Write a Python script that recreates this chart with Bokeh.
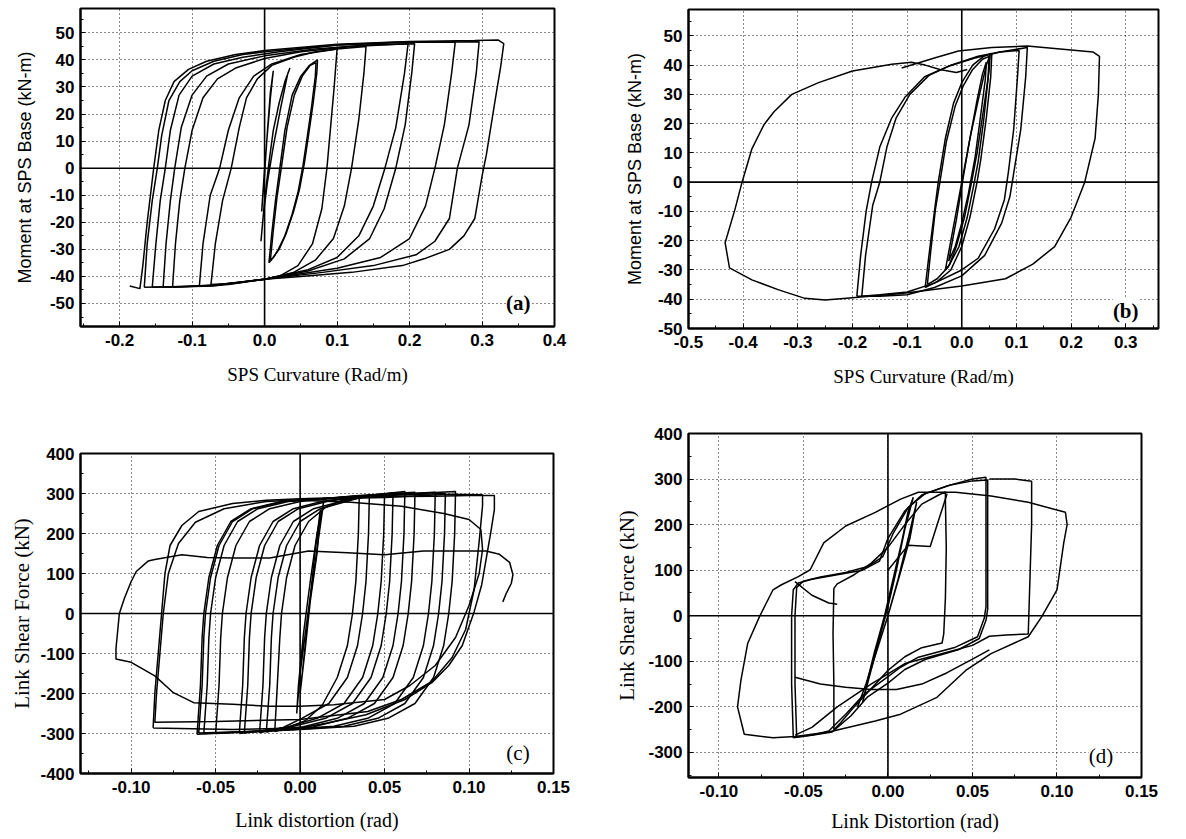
from bokeh.plotting import figure
from bokeh.models import Range1d, FixedTicker, PrintfTickFormatter, Span, Label
from bokeh.layouts import row, column
from bokeh.embed import file_html
from bokeh.resources import INLINE

# ---------------- Panel (a): SPS curvature vs moment ----------------
A_XTICKS = [-0.2, -0.1, 0.0, 0.1, 0.2, 0.3, 0.4]
A_XMINOR = [-0.25, -0.15, -0.05, 0.05, 0.15, 0.25, 0.35]
A_YTICKS = [-50, -40, -30, -20, -10, 0, 10, 20, 30, 40, 50]
A_YMINOR = [-55, -45, -35, -25, -15, -5, 5, 15, 25, 35, 45, 55]

A1_X = [-0.074, -0.068, -0.058, -0.046, -0.035, -0.025, -0.01, 0.01, 0.04, 0.07, 0.10, 0.096, 0.091, 0.086, 0.079, 0.066, 0.046, 0.02, 0.0, -0.04, -0.074]
A1_Y = [-43, -28, -12, 0, 15, 26, 33, 38, 41, 43, 44, 30, 15, 0, -15, -28, -36, -40, -41, -42.5, -43]
A2_X = [-0.09, -0.085, -0.075, -0.062, -0.05, -0.035, -0.015, 0.01, 0.05, 0.1, 0.14, 0.137, 0.13, 0.12, 0.11, 0.095, 0.07, 0.04, 0.0, -0.05, -0.09]
A2_Y = [-43.5, -28, -10, 0, 14, 26, 34, 38.5, 42, 44, 45, 35, 18, 0, -14, -26, -34, -38.5, -41, -43, -43.5]
A3_X = [-0.127, -0.123, -0.117, -0.11, -0.1, -0.085, -0.065, -0.04, 0.0, 0.05, 0.12, 0.198, 0.193, 0.181, 0.166, 0.15, 0.13, 0.1, 0.06, 0.0, -0.06, -0.127]
A3_Y = [-44, -28, -12, 0, 14, 26, 33, 37, 40.5, 43, 45, 46, 35, 15, 0, -14, -25, -33, -37.5, -41, -43, -44]
A4_X = [-0.14, -0.136, -0.13, -0.124, -0.115, -0.1, -0.08, -0.05, 0.0, 0.07, 0.14, 0.207, 0.203, 0.194, 0.181, 0.165, 0.145, 0.11, 0.06, 0.0, -0.07, -0.14]
A4_Y = [-44, -28, -12, 0, 15, 27, 34, 38.5, 41.5, 44, 45.5, 46, 35, 16, 0, -15, -26, -33.5, -38, -41, -43.5, -44]
A5_X = [-0.155, -0.15, -0.144, -0.137, -0.13, -0.118, -0.1, -0.07, -0.03, 0.02, 0.1, 0.18, 0.263, 0.258, 0.248, 0.235, 0.222, 0.2, 0.16, 0.1, 0.0, -0.08, -0.155]
A5_Y = [-44, -28, -12, 0, 14, 27, 34, 38.5, 41, 43, 45.5, 46.5, 46.5, 35, 16, 0, -14, -26, -33, -37, -41, -43.5, -44]
A6_X = [-0.166, -0.162, -0.155, -0.148, -0.142, -0.132, -0.117, -0.1, -0.07, -0.03, 0.0, 0.1, 0.2, 0.296, 0.292, 0.282, 0.266, 0.255, 0.235, 0.209, 0.15, 0.08, 0.0, -0.08, -0.166]
A6_Y = [-44, -28, -12, 0, 12, 25, 32, 36, 39.5, 42, 43, 45.5, 46.5, 46.7, 35, 16, 0, -18.6, -27, -32, -36, -38.5, -41, -43.5, -44]
A7_X = [-0.186, -0.172, -0.168, -0.162, -0.153, -0.146, -0.137, -0.125, -0.105, -0.08, -0.04, 0.0, 0.1, 0.2, 0.29, 0.322, 0.33, 0.326, 0.318, 0.306, 0.3, 0.29, 0.275, 0.255, 0.22, 0.19, 0.12, 0.05, 0.0]
A7_Y = [-43.5, -44.5, -36, -20, 0, 14, 25, 32, 36.5, 39.5, 42, 43.5, 45.8, 46.8, 47.2, 47.4, 46, 38, 25, 5, -3, -18.6, -25, -30, -33.5, -36, -38.5, -40, -41]
A8_X = [-0.005, 0.0, 0.006, 0.012, 0.02, 0.028, 0.035, 0.032, 0.022, 0.012, 0.004, -0.002, -0.005]
A8_Y = [-27, -12, 2, 14, 24, 32, 37, 35, 22, 8, -5, -18, -27]
A9_X = [-0.004, 0.0, 0.004, 0.008, 0.012, 0.008, 0.003, -0.001, -0.004]
A9_Y = [-16, -2, 14, 28, 36, 26, 10, -4, -16]
A10_X = [0.006, 0.01, 0.015, 0.02, 0.028, 0.038, 0.05, 0.062, 0.073, 0.072, 0.067, 0.06, 0.055, 0.048, 0.04, 0.03, 0.02, 0.012, 0.006]
A10_Y = [-35, -24, -12, -2, 14, 27, 34, 38, 40, 35, 24, 11, 2, -8, -16, -24, -30, -33, -35]
A11_X = [0.008, 0.012, 0.017, 0.023, 0.031, 0.041, 0.052, 0.063, 0.071, 0.07, 0.065, 0.058, 0.053, 0.046, 0.038, 0.028, 0.019, 0.012, 0.008]
A11_Y = [-34, -23, -11, 0, 15, 27, 34, 38, 39, 34, 23, 10, 1, -9, -17, -25, -30, -33, -34]

# ---------------- Panel (b) ----------------
B_XTICKS = [-0.5, -0.4, -0.3, -0.2, -0.1, 0.0, 0.1, 0.2, 0.3]
B_XMINOR = [-0.45, -0.35, -0.25, -0.15, -0.05, 0.05, 0.15, 0.25, 0.35]
B_YTICKS = [-50, -40, -30, -20, -10, 0, 10, 20, 30, 40, 50]
B_YMINOR = [-45, -35, -25, -15, -5, 5, 15, 25, 35, 45, 55]

B1_X = [-0.03, -0.015, 0.0, 0.015, 0.03, 0.045, 0.052, 0.05, 0.04, 0.028, 0.018, 0.005, -0.01, -0.022, -0.03]
B1_Y = [-30, -15, 0, 15, 28, 40, 43.6, 38, 25, 10, 0, -12, -22, -28, -30]
B2_X = [-0.024, -0.01, 0.003, 0.016, 0.028, 0.038, 0.045, 0.043, 0.034, 0.024, 0.012, 0.0, -0.012, -0.024]
B2_Y = [-27, -13, 2, 16, 28, 37, 41, 35, 22, 8, -4, -14, -22, -27]
B3_X = [-0.067, -0.06, -0.05, -0.043, -0.03, -0.015, 0.0, 0.02, 0.04, 0.055, 0.053, 0.045, 0.035, 0.028, 0.015, 0.0, -0.02, -0.045, -0.067]
B3_Y = [-36, -25, -10, 0, 15, 27, 34, 40, 43, 44, 36, 22, 8, 0, -12, -22, -30, -34, -36]
B4_X = [-0.063, -0.057, -0.048, -0.04, -0.028, -0.012, 0.003, 0.02, 0.038, 0.05, 0.048, 0.04, 0.03, 0.022, 0.01, -0.005, -0.025, -0.045, -0.063]
B4_Y = [-35, -24, -9, 0, 14, 26, 33, 38.5, 42, 43, 35, 21, 7, -1, -12, -22, -29, -33, -35]
B5_X = [-0.192, -0.185, -0.175, -0.165, -0.15, -0.128, -0.104, -0.068, -0.024, 0.024, 0.07, 0.12, 0.117, 0.108, 0.095, 0.088, 0.073, 0.042, 0.0, -0.05, -0.1, -0.15, -0.192]
B5_Y = [-39, -25, -10, 0, 12, 22, 29, 36, 39.6, 42.4, 44.5, 46, 36, 18, 3, -5, -14, -25, -32, -36, -38.5, -39, -39]
B6_X = [-0.183, -0.176, -0.163, -0.15, -0.137, -0.12, -0.095, -0.06, -0.02, 0.03, 0.07, 0.105, 0.102, 0.095, 0.085, 0.078, 0.06, 0.03, 0.0, -0.05, -0.1, -0.15, -0.183]
B6_Y = [-39, -25, -8, 0, 12, 22, 30, 36.5, 40, 43, 44.5, 45, 36, 18, 3, -6, -16, -26, -30, -34.5, -37.5, -38.5, -39]
B7_X = [-0.11, -0.05, -0.006, 0.055, 0.12, 0.18, 0.24, 0.252, 0.25, 0.244, 0.225, 0.2, 0.17, 0.13, 0.08, 0.0, -0.11, -0.2, -0.25, -0.287, -0.335, -0.384, -0.425, -0.433, -0.415, -0.402, -0.384, -0.362, -0.344, -0.311, -0.262, -0.2, -0.128, -0.092, -0.067, -0.04, -0.01, 0.01]
B7_Y = [39, 42.4, 44.8, 46, 46.5, 45.5, 44.5, 43, 30, 15, 0, -12, -22, -28, -33, -35.5, -38, -39.5, -40.3, -39.7, -36.8, -33.4, -29.3, -20.7, -9.3, 0, 11.4, 19.6, 24, 30, 34, 38, 40.3, 41, 40, 38.5, 37.5, 38.5]

# ---------------- Panel (c) ----------------
C_XTICKS = [-0.10, -0.05, 0.0, 0.05, 0.10, 0.15]
C_XMINOR = [-0.125, -0.075, -0.025, 0.025, 0.075, 0.125]
C_YTICKS = [-400, -300, -200, -100, 0, 100, 200, 300, 400]
C_YMINOR = [-350, -250, -150, -50, 50, 150, 250, 350]

C1_X = [-0.015, -0.0135, -0.012, -0.011, -0.008, -0.003, 0.005, 0.015, 0.025, 0.035, 0.0345, 0.033, 0.031, 0.028, 0.022, 0.013, 0.003, -0.007, -0.015]
C1_Y = [-295, -180, -60, 0, 90, 170, 230, 265, 283, 292, 200, 80, 0, -80, -160, -230, -268, -285, -295]
C2_X = [-0.02, -0.018, -0.017, -0.016, -0.013, -0.008, 0.0, 0.012, 0.03, 0.041, 0.0405, 0.039, 0.037, 0.034, 0.028, 0.017, 0.001, -0.01, -0.02]
C2_Y = [-297, -180, -60, 0, 90, 170, 230, 262, 283, 296, 200, 80, 0, -80, -160, -225, -262, -285, -297]
C3_X = [-0.024, -0.022, -0.021, -0.02, -0.017, -0.012, -0.004, 0.008, 0.026, 0.05, 0.0495, 0.048, 0.046, 0.043, 0.037, 0.026, 0.01, -0.008, -0.024]
C3_Y = [-298, -180, -60, 0, 90, 170, 230, 262, 282, 300, 200, 80, 0, -80, -160, -225, -262, -284, -298]
C4_X = [-0.033, -0.031, -0.03, -0.029, -0.026, -0.021, -0.013, -0.001, 0.017, 0.04, 0.055, 0.0545, 0.053, 0.051, 0.048, 0.042, 0.031, 0.015, -0.005, -0.033]
C4_Y = [-298, -180, -60, 0, 90, 170, 230, 262, 281, 293, 302, 200, 80, 0, -80, -160, -225, -262, -283, -298]
C5_X = [-0.036, -0.034, -0.033, -0.032, -0.029, -0.024, -0.016, -0.004, 0.014, 0.04, 0.062, 0.0615, 0.06, 0.058, 0.055, 0.049, 0.038, 0.022, 0.002, -0.036]
C5_Y = [-300, -180, -60, 0, 90, 170, 230, 262, 281, 295, 305, 200, 80, 0, -80, -160, -225, -262, -283, -300]
C6_X = [-0.05, -0.048, -0.047, -0.046, -0.043, -0.038, -0.03, -0.018, 0.0, 0.035, 0.068, 0.0675, 0.066, 0.064, 0.061, 0.055, 0.044, 0.028, 0.008, -0.02, -0.05]
C6_Y = [-300, -180, -60, 0, 90, 170, 230, 262, 280, 295, 303, 200, 80, 0, -80, -160, -225, -262, -283, -293, -300]
C7_X = [-0.057, -0.055, -0.054, -0.053, -0.05, -0.045, -0.037, -0.025, -0.007, 0.03, 0.08, 0.0795, 0.078, 0.076, 0.073, 0.067, 0.056, 0.04, 0.02, -0.02, -0.057]
C7_Y = [-300, -180, -60, 0, 90, 170, 230, 262, 280, 293, 303, 200, 80, 0, -80, -160, -225, -262, -282, -293, -300]
C8_X = [-0.061, -0.059, -0.058, -0.057, -0.054, -0.049, -0.041, -0.029, -0.011, 0.03, 0.092, 0.0915, 0.09, 0.088, 0.085, 0.079, 0.068, 0.052, 0.032, 0.0, -0.061]
C8_Y = [-302, -180, -60, 0, 90, 170, 230, 262, 280, 292, 305, 200, 80, 0, -80, -160, -225, -262, -282, -290, -302]
C9_X = [-0.06, -0.058, -0.057, -0.056, -0.053, -0.048, -0.04, -0.028, -0.01, 0.03, 0.086, 0.0855, 0.084, 0.082, 0.079, 0.073, 0.062, 0.046, 0.026, -0.01, -0.06]
C9_Y = [-299, -180, -60, 0, 90, 170, 230, 262, 280, 292, 300, 200, 80, 0, -80, -160, -225, -262, -282, -292, -299]
C10_X = [-0.087, -0.086, -0.084, -0.082, -0.08, -0.077, -0.07, -0.06, -0.04, -0.02, 0.0, 0.04, 0.08, 0.1, 0.115, 0.115, 0.113, 0.1075, 0.103, 0.096, 0.088, 0.078, 0.062, 0.039, 0.016, 0.0, -0.04, -0.087]
C10_Y = [-286, -200, -100, 0, 100, 170, 220, 255, 275, 283, 287, 292, 293, 295, 295, 260, 206, 72, 4, -80, -130, -173, -215, -253, -274, -286, -290, -286]
C11_X = [0.088, 0.108, 0.108, 0.106, 0.103, 0.098, 0.09, 0.078, 0.06, 0.04, 0.0, -0.05, -0.086, -0.085, -0.083, -0.081, -0.078, -0.072, -0.062, -0.045, -0.02, 0.01, 0.05, 0.088]
C11_Y = [298, 297, 270, 180, 60, -40, -110, -170, -215, -245, -265, -270, -272, -200, -100, 0, 100, 175, 228, 262, 280, 286, 290, 298]
C12_X = [0.0, 0.03, 0.06, 0.085, 0.1, 0.107, 0.108, 0.106, 0.1, 0.092, 0.08, 0.065, 0.05, 0.02, 0.0, -0.018, -0.04, -0.063, -0.075, -0.086, -0.1, -0.109, -0.109, -0.107, -0.104, -0.1, -0.097, -0.09, -0.086, -0.07, -0.055, -0.04, -0.018, 0.005, 0.028, 0.05, 0.073, 0.09, 0.11, 0.118, 0.124, 0.126, 0.125, 0.122, 0.12]
C12_Y = [283, 278, 268, 250, 235, 210, 160, 100, 20, -60, -130, -180, -215, -228, -232, -232, -227, -223, -198, -156, -122, -114, -88, 0, 38, 80, 105, 131, 135, 147, 140, 139, 139, 156, 152, 147, 156, 156, 156, 148, 128, 97, 75, 50, 29]
C13_X = [-0.002, 0.0, 0.004, 0.008, 0.012, 0.014, 0.01, 0.006, 0.002, -0.001, -0.002]
C13_Y = [-250, -150, -20, 100, 220, 280, 200, 80, -50, -180, -250]
C14_X = [0.0, 0.003, 0.006, 0.009, 0.012, 0.01, 0.006, 0.003, 0.0]
C14_Y = [-200, -80, 40, 160, 260, 150, 30, -90, -200]

# ---------------- Panel (d) ----------------
D_XTICKS = [-0.10, -0.05, 0.0, 0.05, 0.10, 0.15]
D_XMINOR = [-0.075, -0.025, 0.025, 0.075, 0.125]
D_YTICKS = [-300, -200, -100, 0, 100, 200, 300, 400]
D_YMINOR = [-350, -250, -150, -50, 50, 150, 250, 350]

D1_X = [-0.015, -0.01, -0.005, 0.0, 0.005, 0.01, 0.015, 0.012, 0.008, 0.003, -0.002, -0.008, -0.012, -0.015]
D1_Y = [-190, -120, -50, 20, 100, 190, 260, 230, 160, 80, 0, -80, -140, -190]
D2_X = [-0.018, -0.012, -0.006, 0.0, 0.006, 0.012, 0.017, 0.013, 0.007, 0.0, -0.007, -0.013, -0.018]
D2_Y = [-200, -140, -70, 0, 80, 170, 250, 170, 90, 0, -80, -150, -200]
D3_X = [-0.032, -0.032, -0.0325, -0.032, -0.03, -0.02, -0.01, 0.0, 0.01, 0.02, 0.03, 0.034, 0.034, 0.0345, 0.034, 0.033, 0.032, 0.02, 0.01, 0.0, -0.01, -0.02, -0.028, -0.032]
D3_Y = [-250, -150, -40, 60, 70, 90, 115, 150, 200, 245, 265, 272, 250, 150, 40, -40, -60, -70, -90, -120, -160, -200, -235, -250]
D4_X = [-0.056, -0.057, -0.057, -0.056, -0.053, -0.045, -0.03, -0.015, -0.005, 0.0, 0.01, 0.02, 0.035, 0.05, 0.058, 0.058, 0.058, 0.058, 0.057, 0.053, 0.04, 0.018, 0.0075, -0.003, -0.014, -0.025, -0.035, -0.045, -0.056]
D4_Y = [-268, -150, 0, 57, 72, 80, 90, 100, 120, 170, 230, 265, 285, 300, 304, 290, 150, 20, -5, -46, -69, -91, -113, -142, -172, -216, -253, -262, -268]
D5_X = [-0.054, -0.055, -0.055, -0.054, -0.05, -0.04, -0.025, -0.012, -0.003, 0.003, 0.012, 0.022, 0.037, 0.05, 0.059, 0.059, 0.059, 0.059, 0.058, 0.054, 0.042, 0.022, 0.01, 0.0, -0.012, -0.022, -0.033, -0.044, -0.054]
D5_Y = [-266, -150, 0, 62, 76, 85, 95, 108, 130, 180, 238, 268, 287, 296, 298, 285, 150, 15, -10, -50, -74, -96, -118, -148, -178, -220, -255, -262, -266]
D6_X = [0.06, 0.075, 0.085, 0.085, 0.084, 0.083, 0.07, 0.06, 0.05, 0.03, 0.01, -0.01, -0.03, -0.045, -0.055]
D6_Y = [300, 300, 295, 200, 80, -40, -42, -45, -65, -85, -105, -150, -200, -245, -262]
D7_X = [0.04, 0.061, 0.083, 0.105, 0.106, 0.104, 0.1, 0.091, 0.083, 0.061, 0.046, 0.029, 0.0075, -0.0075, -0.035, -0.055, -0.068, -0.085, -0.089, -0.087, -0.083, -0.076, -0.068, -0.063, -0.053, -0.046, -0.038, -0.025, -0.0075, 0.0075, 0.018, 0.04]
D7_Y = [271, 263, 249, 227, 200, 160, 57, -2, -46, -83, -120, -179, -216, -231, -255, -265, -268, -260, -200, -142, -61, -2, 57, 68, 86, 101, 160, 197, 227, 256, 271, 271]
D8_X = [-0.055, -0.045, -0.035, -0.03]
D8_Y = [75, 45, 28, 25]
D9_X = [-0.055, -0.04, -0.025, -0.01, 0.005, 0.02, 0.035, 0.05, 0.06]
D9_Y = [-135, -150, -157, -162, -162, -150, -125, -95, -75]
D10_X = [0.0, 0.012, 0.025, 0.03, 0.035]
D10_Y = [100, 155, 152, 210, 268]

A_XS = [A1_X, A2_X, A3_X, A4_X, A5_X, A6_X, A7_X, A8_X, A9_X, A10_X, A11_X]
A_YS = [A1_Y, A2_Y, A3_Y, A4_Y, A5_Y, A6_Y, A7_Y, A8_Y, A9_Y, A10_Y, A11_Y]
B_XS = [B1_X, B2_X, B3_X, B4_X, B5_X, B6_X, B7_X]
B_YS = [B1_Y, B2_Y, B3_Y, B4_Y, B5_Y, B6_Y, B7_Y]
C_XS = [C1_X, C2_X, C3_X, C4_X, C5_X, C6_X, C7_X, C8_X, C9_X, C10_X, C11_X, C12_X, C13_X, C14_X]
C_YS = [C1_Y, C2_Y, C3_Y, C4_Y, C5_Y, C6_Y, C7_Y, C8_Y, C9_Y, C10_Y, C11_Y, C12_Y, C13_Y, C14_Y]
D_XS = [D1_X, D2_X, D3_X, D4_X, D5_X, D6_X, D7_X, D8_X, D9_X, D10_X]
D_YS = [D1_Y, D2_Y, D3_Y, D4_Y, D5_Y, D6_Y, D7_Y, D8_Y, D9_Y, D10_Y]

SANS = "Liberation Sans"
SERIF = "Liberation Serif"


def make_panel(xr, yr, fw, fh, borders, xt, xm, yt, ym, xfmt, xlabel, ylabel,
               ylabel_font, label_size, xs, ys, tag, tag_xy, tag_bold,
               xstand, ystand):
    p = figure(frame_width=fw, frame_height=fh,
               x_range=Range1d(*xr), y_range=Range1d(*yr),
               output_backend="svg", toolbar_location=None,
               min_border_left=borders[0], min_border_right=borders[1],
               min_border_top=borders[2], min_border_bottom=borders[3])
    p.background_fill_color = "white"
    p.border_fill_color = "white"
    p.outline_line_color = "black"
    p.outline_line_width = 2
    p.outline_line_alpha = 1

    xtick = FixedTicker(ticks=xt, minor_ticks=xm)
    ytick = FixedTicker(ticks=yt, minor_ticks=ym)
    p.xaxis.ticker = xtick
    p.yaxis.ticker = ytick
    p.xgrid.ticker = xtick
    p.ygrid.ticker = ytick
    p.xaxis.formatter = PrintfTickFormatter(format=xfmt)
    p.yaxis.formatter = PrintfTickFormatter(format="%d")

    for ax in (p.xaxis, p.yaxis):
        ax.axis_line_color = "black"
        ax.axis_line_width = 2
        ax.major_tick_in = 5
        ax.major_tick_out = 0
        ax.minor_tick_in = 3
        ax.minor_tick_out = 0
        ax.major_tick_line_color = "black"
        ax.minor_tick_line_color = "black"
        ax.major_label_text_font = SANS
        ax.major_label_text_font_style = "bold"
        ax.major_label_text_font_size = "17px"
        ax.major_label_text_color = "black"
        ax.axis_label_text_font_style = "normal"
        ax.axis_label_text_color = "black"
    p.xaxis.major_label_standoff = 7
    p.yaxis.major_label_standoff = 6
    p.xaxis.axis_label = xlabel
    p.yaxis.axis_label = ylabel
    p.xaxis.axis_label_text_font = SERIF
    p.xaxis.axis_label_text_font_size = label_size[0]
    p.yaxis.axis_label_text_font = ylabel_font
    p.yaxis.axis_label_text_font_size = label_size[1]
    p.xaxis.axis_label_standoff = xstand
    p.yaxis.axis_label_standoff = ystand

    for g in (p.xgrid, p.ygrid):
        g.grid_line_color = "black"
        g.grid_line_dash = "1 3"
        g.grid_line_width = 1
        g.grid_line_alpha = 0.9

    p.add_layout(Span(location=0, dimension="height", line_color="black", line_width=1.6))
    p.add_layout(Span(location=0, dimension="width", line_color="black", line_width=1.6))

    p.multi_line(xs=xs, ys=ys, line_color="black", line_width=1.5)

    p.add_layout(Label(x=tag_xy[0], y=tag_xy[1], text=tag, text_font=SERIF,
                       text_font_style="bold" if tag_bold else "normal",
                       text_font_size="21px", text_align="center",
                       text_baseline="middle", text_color="black",
                       background_fill_color="white", background_fill_alpha=1))
    return p


pa = make_panel((-0.254, 0.4), (-58.5, 59), 474, 318, (78, 20, 8, 90),
                A_XTICKS, A_XMINOR, A_YTICKS, A_YMINOR, "%.1f",
                "SPS Curvature (Rad/m)", "Moment at SPS Base (kN-m)", SANS,
                ("19px", "18px"), A_XS, A_YS, "(a)", (0.35, -50), True, 15, 12)

pb = make_panel((-0.5, 0.36), (-50, 59), 470, 319, (115, 29, 9, 88),
                B_XTICKS, B_XMINOR, B_YTICKS, B_YMINOR, "%.1f",
                "SPS Curvature (Rad/m)", "Moment at SPS Base (kN-m)", SANS,
                ("19px", "18px"), B_XS, B_YS, "(b)", (0.3, -44), True, 15, 10)

pc = make_panel((-0.13, 0.15), (-400, 400), 473, 320, (80, 20, 37, 66),
                C_XTICKS, C_XMINOR, C_YTICKS, C_YMINOR, "%.2f",
                "Link distortion (rad)", "Link Shear Force (kN)", SERIF,
                ("20px", "21px"), C_XS, C_YS, "(c)", (0.129, -349), False, 13, 3)

pd = make_panel((-0.118, 0.15), (-355, 400), 453, 344, (115, 31, 17, 62),
                D_XTICKS, D_XMINOR, D_YTICKS, D_YMINOR, "%.2f",
                "Link Distortion (rad)", "Link Shear Force (kN)", SERIF,
                ("20px", "21px"), D_XS, D_YS, "(d)", (0.126, -308), False, 10, 6)

layout = row(column(pa, pc), column(pb, pd))
open("out.html", "w").write(file_html(layout, INLINE))
